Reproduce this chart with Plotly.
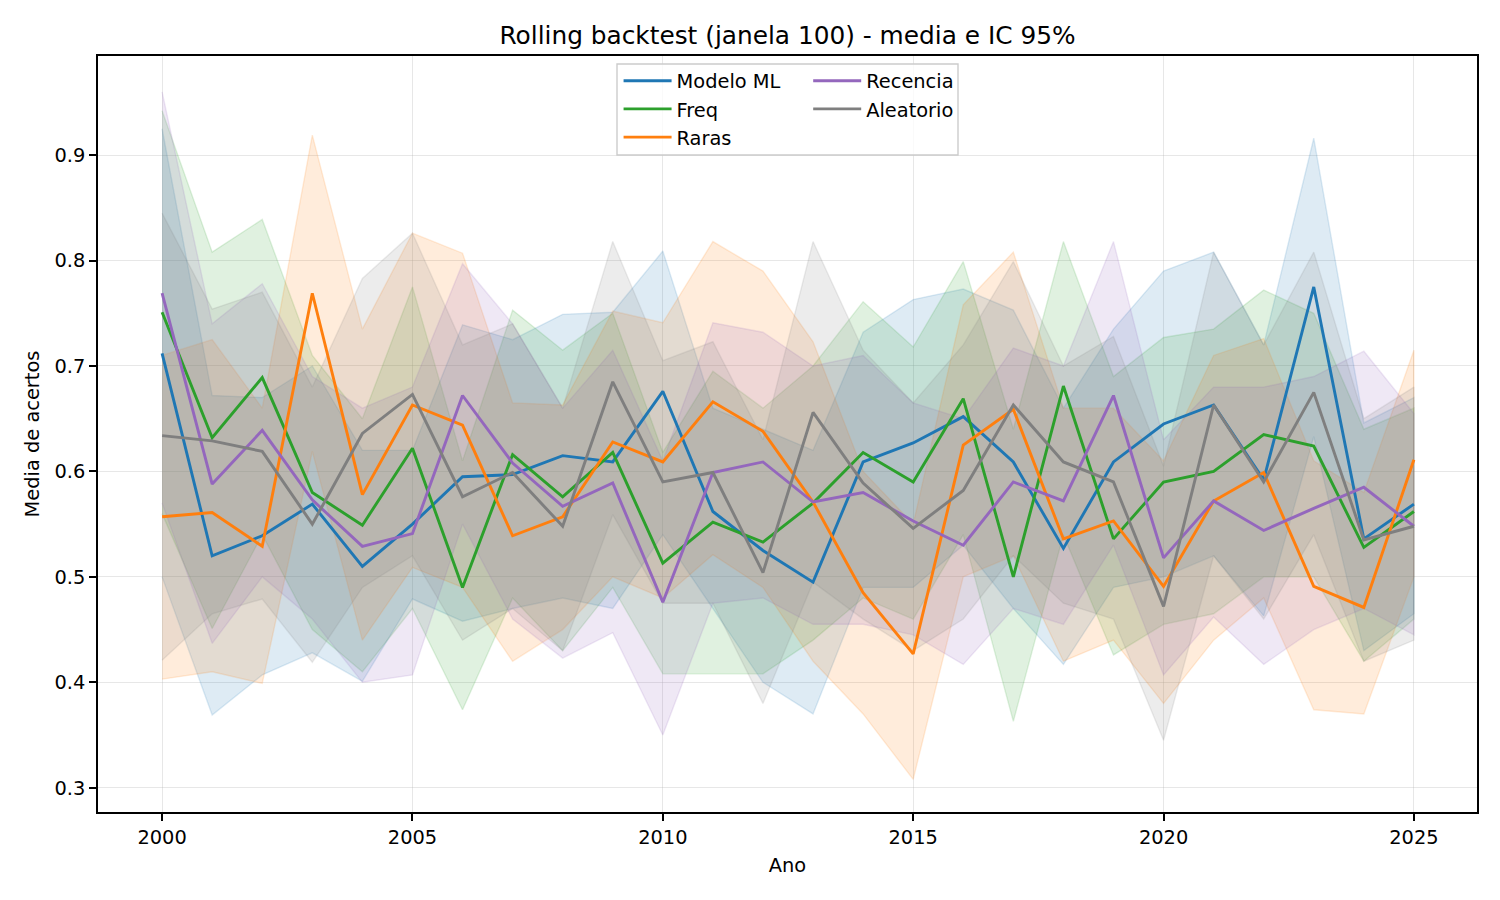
import plotly.graph_objects as go

years = list(range(2000, 2026))

names = ["Modelo ML", "Freq", "Raras", "Recencia", "Aleatorio"]
colors = ["#1f77b4", "#2ca02c", "#ff7f0e", "#9467bd", "#7f7f7f"]

mean_ml = [0.712, 0.520, 0.539, 0.569, 0.510, 0.550, 0.595, 0.597, 0.615, 0.609, 0.676, 0.562, 0.525,
           0.495, 0.609, 0.627, 0.652, 0.609, 0.527, 0.609, 0.645, 0.663, 0.592, 0.775, 0.536, 0.569]
up_ml = [0.925, 0.672, 0.670, 0.700, 0.620, 0.620, 0.739, 0.725, 0.749, 0.751, 0.809, 0.660, 0.640,
         0.620, 0.732, 0.763, 0.773, 0.753, 0.660, 0.735, 0.790, 0.808, 0.720, 0.916, 0.646, 0.670]
lo_ml = [0.500, 0.369, 0.407, 0.428, 0.401, 0.479, 0.458, 0.470, 0.480, 0.470, 0.540, 0.470, 0.400,
         0.370, 0.490, 0.490, 0.530, 0.470, 0.417, 0.490, 0.500, 0.520, 0.463, 0.633, 0.430, 0.465]

mean_freq = [0.751, 0.632, 0.689, 0.580, 0.549, 0.622, 0.490, 0.616, 0.576, 0.618, 0.513, 0.552, 0.533,
             0.570, 0.618, 0.590, 0.669, 0.500, 0.681, 0.536, 0.590, 0.600, 0.635, 0.624, 0.528, 0.562]
up_freq = [0.942, 0.808, 0.839, 0.710, 0.650, 0.775, 0.610, 0.753, 0.715, 0.750, 0.618, 0.695, 0.660,
           0.700, 0.761, 0.718, 0.799, 0.640, 0.818, 0.690, 0.727, 0.735, 0.772, 0.750, 0.640, 0.660]
lo_freq = [0.560, 0.451, 0.540, 0.450, 0.410, 0.470, 0.374, 0.480, 0.430, 0.490, 0.408, 0.408, 0.408,
           0.440, 0.480, 0.460, 0.540, 0.363, 0.540, 0.426, 0.455, 0.465, 0.500, 0.500, 0.420, 0.460]

mean_raras = [0.557, 0.561, 0.529, 0.769, 0.578, 0.663, 0.644, 0.539, 0.557, 0.628, 0.609, 0.666, 0.638,
              0.571, 0.485, 0.427, 0.625, 0.659, 0.536, 0.553, 0.491, 0.572, 0.599, 0.491, 0.471, 0.611]
up_raras = [0.710, 0.725, 0.660, 0.919, 0.735, 0.826, 0.807, 0.665, 0.663, 0.752, 0.741, 0.818, 0.790,
            0.723, 0.600, 0.550, 0.758, 0.808, 0.660, 0.660, 0.610, 0.710, 0.726, 0.610, 0.580, 0.715]
lo_raras = [0.403, 0.410, 0.399, 0.619, 0.440, 0.509, 0.490, 0.420, 0.450, 0.500, 0.480, 0.521, 0.490,
            0.420, 0.370, 0.308, 0.500, 0.520, 0.420, 0.440, 0.380, 0.440, 0.480, 0.374, 0.370, 0.500]

mean_rec = [0.769, 0.588, 0.639, 0.573, 0.529, 0.541, 0.672, 0.608, 0.567, 0.589, 0.476, 0.599, 0.609,
            0.571, 0.580, 0.553, 0.530, 0.590, 0.572, 0.672, 0.518, 0.572, 0.544, 0.565, 0.585, 0.548]
up_rec = [0.960, 0.740, 0.778, 0.690, 0.660, 0.680, 0.797, 0.740, 0.660, 0.715, 0.610, 0.741, 0.732,
          0.700, 0.710, 0.665, 0.650, 0.717, 0.700, 0.818, 0.630, 0.680, 0.680, 0.690, 0.714, 0.655]
lo_rec = [0.570, 0.437, 0.500, 0.460, 0.400, 0.407, 0.550, 0.460, 0.423, 0.447, 0.350, 0.475, 0.480,
          0.455, 0.455, 0.445, 0.417, 0.470, 0.455, 0.530, 0.407, 0.462, 0.417, 0.450, 0.470, 0.445]

mean_alea = [0.634, 0.629, 0.619, 0.550, 0.636, 0.673, 0.576, 0.599, 0.548, 0.685, 0.590, 0.599, 0.504,
             0.656, 0.589, 0.546, 0.582, 0.663, 0.609, 0.590, 0.472, 0.663, 0.590, 0.675, 0.535, 0.548]
up_alea = [0.845, 0.754, 0.770, 0.680, 0.783, 0.826, 0.720, 0.740, 0.660, 0.818, 0.705, 0.723, 0.630,
           0.818, 0.715, 0.665, 0.720, 0.799, 0.700, 0.728, 0.605, 0.808, 0.720, 0.808, 0.650, 0.680]
lo_alea = [0.421, 0.465, 0.479, 0.419, 0.490, 0.520, 0.440, 0.470, 0.430, 0.559, 0.475, 0.475, 0.380,
           0.495, 0.460, 0.430, 0.460, 0.520, 0.475, 0.460, 0.345, 0.520, 0.460, 0.540, 0.420, 0.440]

means = [mean_ml, mean_freq, mean_raras, mean_rec, mean_alea]
ups = [up_ml, up_freq, up_raras, up_rec, up_alea]
los = [lo_ml, lo_freq, lo_raras, lo_rec, lo_alea]


def rgba(h, a):
    h = h.lstrip("#")
    r, g, b = int(h[0:2], 16), int(h[2:4], 16), int(h[4:6], 16)
    return f"rgba({r},{g},{b},{a})"


fig = go.Figure()

# confidence bands first (below all lines)
for name, col, up, lo in zip(names, colors, ups, los):
    fig.add_trace(go.Scatter(
        x=years + years[::-1], y=up + lo[::-1],
        fill="toself", fillcolor=rgba(col, 0.15),
        line=dict(color=rgba(col, 0.15), width=1.4),
        mode="lines", showlegend=False, hoverinfo="skip",
    ))

legend_of = ["legend", "legend", "legend", "legend2", "legend2"]
for i, (name, col, m) in enumerate(zip(names, colors, means)):
    fig.add_trace(go.Scatter(
        x=years, y=m, mode="lines", name=name,
        line=dict(color=col, width=2.9),
        legend=legend_of[i], legendgroup=name,
    ))

font = "DejaVu Sans, Arial, sans-serif"
FS = 19.4
leg_common = dict(
    bgcolor="rgba(0,0,0,0)", borderwidth=0,
    font=dict(family=font, size=FS, color="black"),
    xanchor="left", yanchor="top", yref="paper", xref="paper",
    tracegroupgap=0, itemwidth=48,
)

fig.update_layout(
    width=1500, height=900,
    margin=dict(l=90, r=31, t=48, b=96),
    paper_bgcolor="white", plot_bgcolor="white",
    font=dict(family=font, size=FS, color="black"),
    title=dict(text="Rolling backtest (janela 100) - media e IC 95%",
               x=0.5, xref="paper", y=1 - 27 / 900, yref="container",
               xanchor="center", yanchor="middle",
               font=dict(family=font, size=24.8, color="black")),
    legend=dict(x=0.3775, y=0.9926, **leg_common),
    legend2=dict(x=0.515, y=0.9926, **leg_common),
    xaxis=dict(
        range=[1998.72, 2026.26], tickvals=[2000, 2005, 2010, 2015, 2020, 2025],
        showgrid=True, gridcolor="rgba(176,176,176,0.3)", gridwidth=1.4,
        showline=True, linecolor="black", linewidth=1.5, mirror=True,
        ticks="outside", ticklen=7, tickwidth=1.5, tickcolor="black",
        zeroline=False,
        title=dict(text="Ano", standoff=10, font=dict(family=font, size=FS)),
        tickfont=dict(family=font, size=FS),
    ),
    yaxis=dict(
        range=[0.277, 0.994], tickvals=[0.3, 0.4, 0.5, 0.6, 0.7, 0.8, 0.9],
        tickformat=".1f",
        showgrid=True, gridcolor="rgba(176,176,176,0.3)", gridwidth=1.4,
        showline=True, linecolor="black", linewidth=1.5, mirror=True,
        ticks="outside", ticklen=7, tickwidth=1.5, tickcolor="black",
        zeroline=False,
        title=dict(text="Media de acertos", standoff=10, font=dict(family=font, size=FS)),
        tickfont=dict(family=font, size=FS),
    ),
    shapes=[dict(type="rect", xref="paper", yref="paper",
                 x0=(617 - 98) / 1379, x1=(958 - 98) / 1379,
                 y0=1 - 99 / 756, y1=1 - 8 / 756,
                 line=dict(color="#cccccc", width=1.4),
                 fillcolor="rgba(255,255,255,0.8)", layer="above")],
)

fig.write_html("out.html")
